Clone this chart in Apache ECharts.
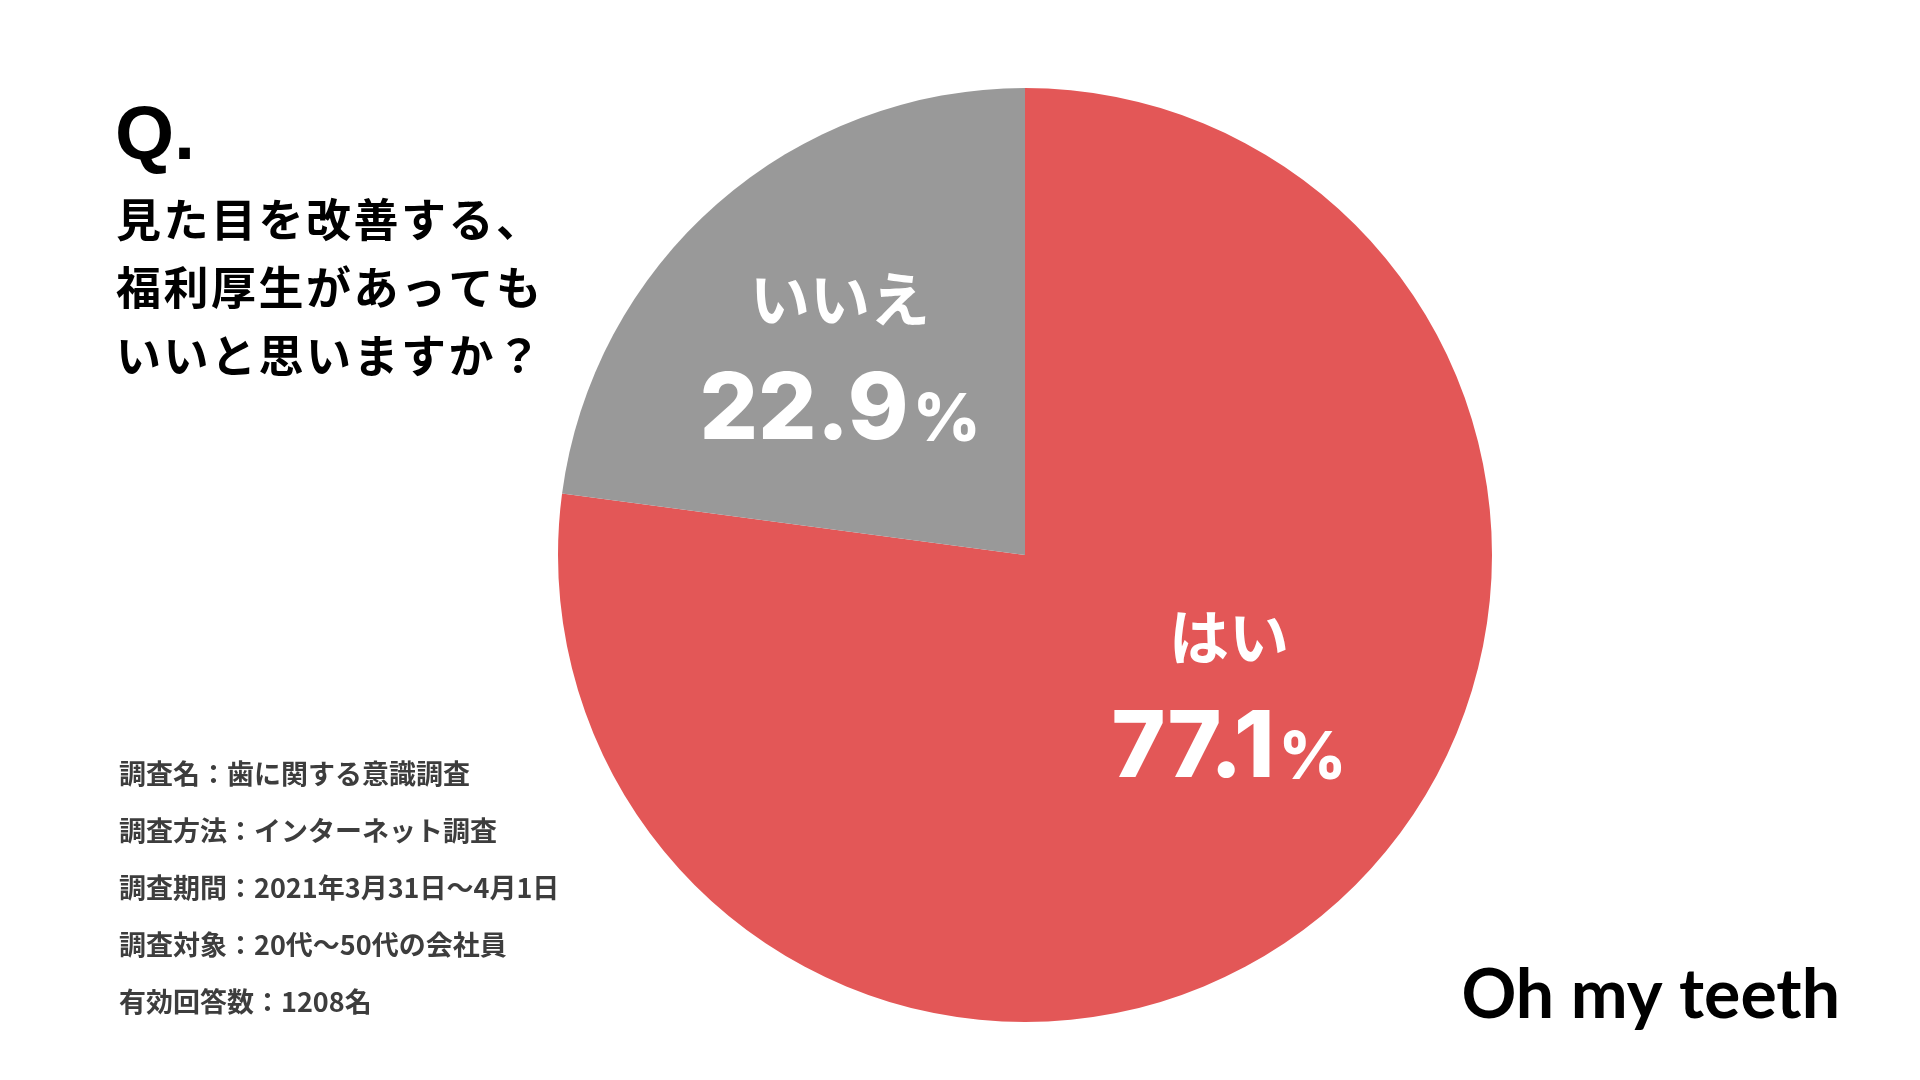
<!DOCTYPE html>
<html>
<head>
<meta charset="utf-8">
<title>福利厚生アンケート</title>
<script src="https://cdn.jsdelivr.net/npm/echarts@6/dist/echarts.min.js"></script>
<style>
  html, body { margin: 0; padding: 0; background: #fff; }
  #main { width: 1920px; height: 1080px; }
</style>
</head>
<body>
<div id="main"></div>
<script>
// データ
var answers = ['はい', 'いいえ'];
var ratios = [77.1, 22.9];
var sliceColors = ['#E35757', '#999999'];

var questionLines = ['見た目を改善する、', '福利厚生があっても', 'いいと思いますか？'];
var surveyNotes = [
    '調査名：歯に関する意識調査',
    '調査方法：インターネット調査',
    '調査期間：2021年3月31日〜4月1日',
    '調査対象：20代〜50代の会社員',
    '有効回答数：1208名'
];

// ラベルの位置（はい / いいえ）
var labelPos = [[1229, 699], [840, 361]];

var chart = echarts.init(document.getElementById('main'));

var graphics = [];
// Q.
graphics.push({
    type: 'text', left: 115, top: 100,
    style: { text: 'Q.', font: 'bold 76px "Liberation Sans", Arial, sans-serif', fill: '#000' }
});
// 設問（字間を少し空けるため1文字ずつ置く）
questionLines.forEach(function (t, i) {
    t.split('').forEach(function (ch, j) {
        graphics.push({
            type: 'text', left: 116 + j * 47.5, top: 197 + i * 68,
            style: { text: ch, font: 'bold 45px "Noto Sans CJK JP", sans-serif', fill: '#000' }
        });
    });
});
// 調査概要
surveyNotes.forEach(function (t, i) {
    graphics.push({
        type: 'text', left: 119, top: 760 + i * 57,
        style: { text: t, font: 'bold 27px "Noto Sans CJK JP", sans-serif', fill: '#3d3d3d' }
    });
});
// ロゴ
graphics.push({
    type: 'text', right: 80, top: 962,
    style: { text: 'Oh my teeth', font: 'bold 68px Lato, "Noto Sans", sans-serif', fill: '#000' }
});

var option = {
    backgroundColor: '#fff',
    animation: false,
    graphic: graphics,
    series: [{
        type: 'pie',
        center: [1025, 555],
        radius: 467,
        startAngle: 90,
        clockwise: true,
        silent: true,
        data: answers.map(function (name, i) {
            return { name: name, value: ratios[i], itemStyle: { color: sliceColors[i] } };
        }),
        label: {
            show: true,
            position: 'inside',
            color: '#fff',
            formatter: function (p) {
                return '{n|' + p.name + '}\n{v|' + p.value.toFixed(1) + '}{p|%}';
            },
            rich: {
                n: { fontFamily: '"Noto Sans CJK JP", sans-serif', fontWeight: 'bold', fontSize: 60, lineHeight: 100, color: '#fff' },
                v: { fontFamily: 'Inter, "Noto Sans", sans-serif', fontWeight: 800, fontSize: 92, lineHeight: 124, color: '#fff' },
                p: { fontFamily: 'Inter, "Noto Sans", sans-serif', fontWeight: 800, fontSize: 66, lineHeight: 124, color: '#fff',
                     verticalAlign: 'bottom', padding: [0, 0, 19, 4] }
            }
        },
        labelLine: { show: false },
        labelLayout: function (params) {
            var pos = labelPos[params.dataIndex];
            return { x: pos[0], y: pos[1], align: 'center', verticalAlign: 'middle' };
        }
    }]
};

chart.setOption(option);
</script>
</body>
</html>
